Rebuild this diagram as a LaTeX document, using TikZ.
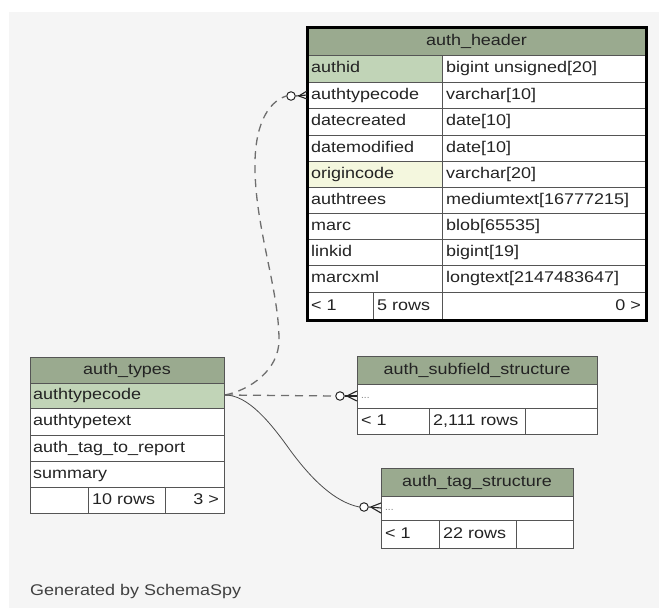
\documentclass[tikz,border=0pt]{standalone}
\usepackage{fontspec}
\setmainfont{Liberation Sans}
\usetikzlibrary{calc}
\definecolor{hdr}{RGB}{154,170,143}
\definecolor{pk}{RGB}{193,212,183}
\definecolor{idx}{RGB}{244,247,222}
\definecolor{bgc}{RGB}{245,245,245}
\definecolor{gridc}{RGB}{85,85,85}
\definecolor{txt}{RGB}{35,35,35}
\definecolor{dashc}{RGB}{110,110,110}
\newcommand{\TX}[1]{\scalebox{1.16}[1]{#1}}
\begin{document}
\begin{tikzpicture}[x=1pt,y=-1pt,
  cell/.style={inner sep=0pt, anchor=west, text=txt, font=\fontsize{15.5}{18}\selectfont, text height=11pt, text depth=3pt},
  rcell/.style={cell, anchor=east},
  title/.style={inner sep=0pt, anchor=center, text=txt, font=\fontsize{15.5}{18}\selectfont, text height=11pt, text depth=3pt},
  dots/.style={inner sep=0pt, anchor=west, text=gray, font=\fontsize{10}{12}\selectfont},
  rowline/.style={draw=gridc, line width=0.9pt},
  thinbox/.style={draw=gridc, line width=1pt},
  endcircle/.style={circle, draw=black!85, fill=white, line width=1pt, minimum size=8.5pt, inner sep=0pt},
  crow/.style={draw=black!85, line width=1.1pt},
  fkdash/.style={draw=dashc, line width=1.3pt, dash pattern=on 8pt off 6pt},
  fksolid/.style={draw=black!70, line width=0.8pt}
]
\useasboundingbox (0,0) rectangle (659,608);
\fill[white] (0,0) rectangle (659,608);
\fill[bgc] (9,12) rectangle (659,608);

% ---------------- auth_header ----------------
\fill[hdr] (307,27) rectangle (646,55);
\fill[white] (307,55) rectangle (646,320);
\fill[pk] (307,55) rectangle (442,82);
\fill[idx] (307,161) rectangle (442,187);
\foreach \yy in {55,82,108,135,161,187,213,239,265,292}
  \draw[rowline] (307,\yy) -- (646,\yy);
\draw[rowline] (442,55) -- (442,320);
\draw[rowline] (373,292) -- (373,320);
\draw[line width=3pt] (307,27) rectangle (646,320);
\node[title] (ah) at (476.5,41) {\TX{auth\_header}};
\node[cell] (ah1) at (311,68.5) {\TX{authid}};
\node[cell] (ah1t) at (446,68.5) {\TX{bigint unsigned[20]}};
\node[cell] (ah2) at (311,95) {\TX{authtypecode}};
\node[cell] (ah2t) at (446,95) {\TX{varchar[10]}};
\node[cell] (ah3) at (311,121.5) {\TX{datecreated}};
\node[cell] (ah3t) at (446,121.5) {\TX{date[10]}};
\node[cell] (ah4) at (311,148) {\TX{datemodified}};
\node[cell] (ah4t) at (446,148) {\TX{date[10]}};
\node[cell] (ah5) at (311,174) {\TX{origincode}};
\node[cell] (ah5t) at (446,174) {\TX{varchar[20]}};
\node[cell] (ah6) at (311,200) {\TX{authtrees}};
\node[cell] (ah6t) at (446,200) {\TX{mediumtext[16777215]}};
\node[cell] (ah7) at (311,226) {\TX{marc}};
\node[cell] (ah7t) at (446,226) {\TX{blob[65535]}};
\node[cell] (ah8) at (311,252) {\TX{linkid}};
\node[cell] (ah8t) at (446,252) {\TX{bigint[19]}};
\node[cell] (ah9) at (311,278.5) {\TX{marcxml}};
\node[cell] (ah9t) at (446,278.5) {\TX{longtext[2147483647]}};
\node[cell] (ahf1) at (311,306) {\TX{< 1}};
\node[cell] (ahf2) at (377,306) {\TX{5 rows}};
\node[rcell] (ahf3) at (641,306) {\TX{0 >}};
\coordinate (ahIn) at (307,95);

% ---------------- auth_types ----------------
\fill[hdr] (30,357) rectangle (224,383);
\fill[pk] (30,383) rectangle (224,408);
\fill[white] (30,408) rectangle (224,513);
\foreach \yy in {383,408,435,461,487}
  \draw[rowline] (30,\yy) -- (224,\yy);
\draw[rowline] (88,487) -- (88,513);
\draw[rowline] (165,487) -- (165,513);
\draw[thinbox] (30,357) rectangle (224,513);
\node[title] (at) at (127,370) {\TX{auth\_types}};
\node[cell] (at1) at (33,395.5) {\TX{authtypecode}};
\node[cell] (at2) at (33,421.5) {\TX{authtypetext}};
\node[cell] (at3) at (33,448) {\TX{auth\_tag\_to\_report}};
\node[cell] (at4) at (33,474) {\TX{summary}};
\node[cell] (atf2) at (92,500) {\TX{10 rows}};
\node[rcell] (atf3) at (219,500) {\TX{3 >}};
\coordinate (atOut) at (225,395);

% ---------------- auth_subfield_structure ----------------
\fill[hdr] (357,356) rectangle (597,384);
\fill[white] (357,384) rectangle (597,434);
\draw[rowline] (357,384) -- (597,384);
\draw[rowline] (357,408) -- (597,408);
\draw[rowline] (429,408) -- (429,434);
\draw[rowline] (525,408) -- (525,434);
\draw[thinbox] (357,356) rectangle (597,434);
\node[title] (as) at (477,370) {\TX{auth\_subfield\_structure}};
\node[dots] (as1) at (361,398) {...};
\node[cell] (asf1) at (361,421) {\TX{< 1}};
\node[cell] (asf2) at (433,421) {\TX{2,111 rows}};
\coordinate (asIn) at (357,396);

% ---------------- auth_tag_structure ----------------
\fill[hdr] (381,468) rectangle (573,496);
\fill[white] (381,496) rectangle (573,548);
\draw[rowline] (381,496) -- (573,496);
\draw[rowline] (381,520) -- (573,520);
\draw[rowline] (439,520) -- (439,548);
\draw[rowline] (516,520) -- (516,548);
\draw[thinbox] (381,468) rectangle (573,548);
\node[title] (ts) at (477,482) {\TX{auth\_tag\_structure}};
\node[dots] (ts1) at (385,510) {...};
\node[cell] (tsf1) at (385,534) {\TX{< 1}};
\node[cell] (tsf2) at (443,534) {\TX{22 rows}};
\coordinate (tsIn) at (381,508);

% ---------------- connectors ----------------
% auth_types.authtypecode -> auth_header.authtypecode (dashed)
\node[endcircle] (c1) at (291,96) {};
\draw[fkdash] (atOut) .. controls (250,390) and (279,370) .. (279,340)
  .. controls (279,290) and (256,230) .. (255,170)
  .. controls (254,125) and (268,102) .. (c1.west);
\draw[crow] (c1.east) -- (ahIn);
\draw[crow] ($(c1.east)+(3,0)$) -- ($(ahIn)+(0,-4)$);
\draw[crow] ($(c1.east)+(3,0)$) -- ($(ahIn)+(0,4)$);

% auth_types.authtypecode -> auth_subfield_structure (dashed)
\node[endcircle] (c2) at (340,396) {};
\draw[fkdash] (atOut) -- (c2.west);
\draw[crow] (c2.east) -- (asIn);
\draw[crow] ($(c2.east)+(2,0)$) -- ($(asIn)+(0,-5)$);
\draw[crow] ($(c2.east)+(2,0)$) -- ($(asIn)+(0,5)$);

% auth_types.authtypecode -> auth_tag_structure (solid)
\node[endcircle] (c3) at (364,507) {};
\draw[fksolid] (atOut) .. controls (248,395) and (270,422) .. (290,450)
  .. controls (312,480) and (335,502) .. (c3.west);
\draw[crow] (c3.east) -- (tsIn);
\draw[crow] ($(c3.east)+(2,0)$) -- ($(tsIn)+(0,-5)$);
\draw[crow] ($(c3.east)+(2,0)$) -- ($(tsIn)+(0,5)$);

% ---------------- footer text ----------------
\node[cell, text=black!75] (gen) at (30,591) {\TX{Generated by SchemaSpy}};
\end{tikzpicture}
\end{document}
